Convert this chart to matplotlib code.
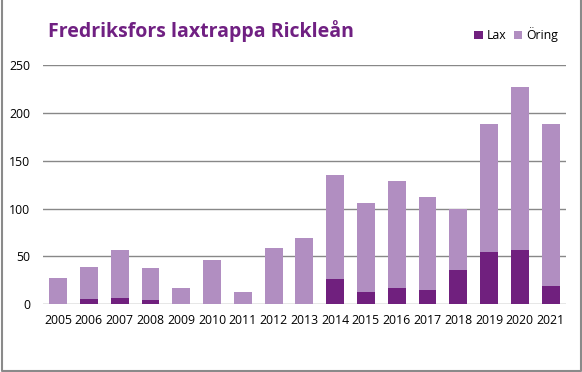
import matplotlib.pyplot as plt
from matplotlib.lines import Line2D

years = ['2005', '2006', '2007', '2008', '2009', '2010', '2011', '2012', '2013',
         '2014', '2015', '2016', '2017', '2018', '2019', '2020', '2021']
lax = [0, 5, 6, 4, 0, 0, 0, 0, 0, 26, 13, 17, 15, 36, 54, 57, 19]
oring = [27, 34, 51, 34, 17, 46, 13, 59, 69, 109, 93, 112, 97, 64, 135, 170, 170]
yticks = [0, 50, 100, 150, 200, 250]

lax_color = '#70207E'
oring_color = '#B18EC1'
grid_color = '#888888'

plt.rcParams['font.family'] = ['Open Sans', 'DejaVu Sans']

fig = plt.figure(figsize=(5.82, 3.72), dpi=100)
ax = fig.add_axes([0.0734, 0.1828, 0.8991, 0.6412])

x = list(range(len(years)))
ax.bar(x, lax, width=0.58, color=lax_color, label='Lax', zorder=3)
ax.bar(x, oring, width=0.58, bottom=lax, color=oring_color, label='Öring', zorder=3)

ax.set_xlim(-0.5, len(years) - 0.5)
ax.set_ylim(0, 250)
ax.set_yticks(yticks)
ax.set_xticks(x)
ax.set_xticklabels(years)
ax.tick_params(axis='both', length=0, labelsize=8.8, colors='black')
ax.tick_params(axis='y', pad=9)
ax.tick_params(axis='x', pad=7)
ax.grid(axis='y', color=grid_color, linewidth=1, zorder=0)
for s in ax.spines.values():
    s.set_visible(False)

fig.text(48 / 582, 1 - 36.7 / 372, 'Fredriksfors laxtrappa Rickleån',
         fontsize=14, fontweight='bold', color='#702082', va='baseline', ha='left')

fig.legend(loc='center', bbox_to_anchor=(516 / 582, 1 - 35 / 372), ncol=2,
           frameon=False, fontsize=8.8, handlelength=0.7, handleheight=0.7,
           handletextpad=0.3, columnspacing=0.6)

# chart border (left, bottom, right)
fig.add_artist(Line2D([1.5 / 582, 1.5 / 582, 580.5 / 582, 580.5 / 582],
                      [1, 1.5 / 372, 1.5 / 372, 1],
                      transform=fig.transFigure, color='#8a8a8a', linewidth=1.5))

fig.savefig('out.png', dpi=100)
